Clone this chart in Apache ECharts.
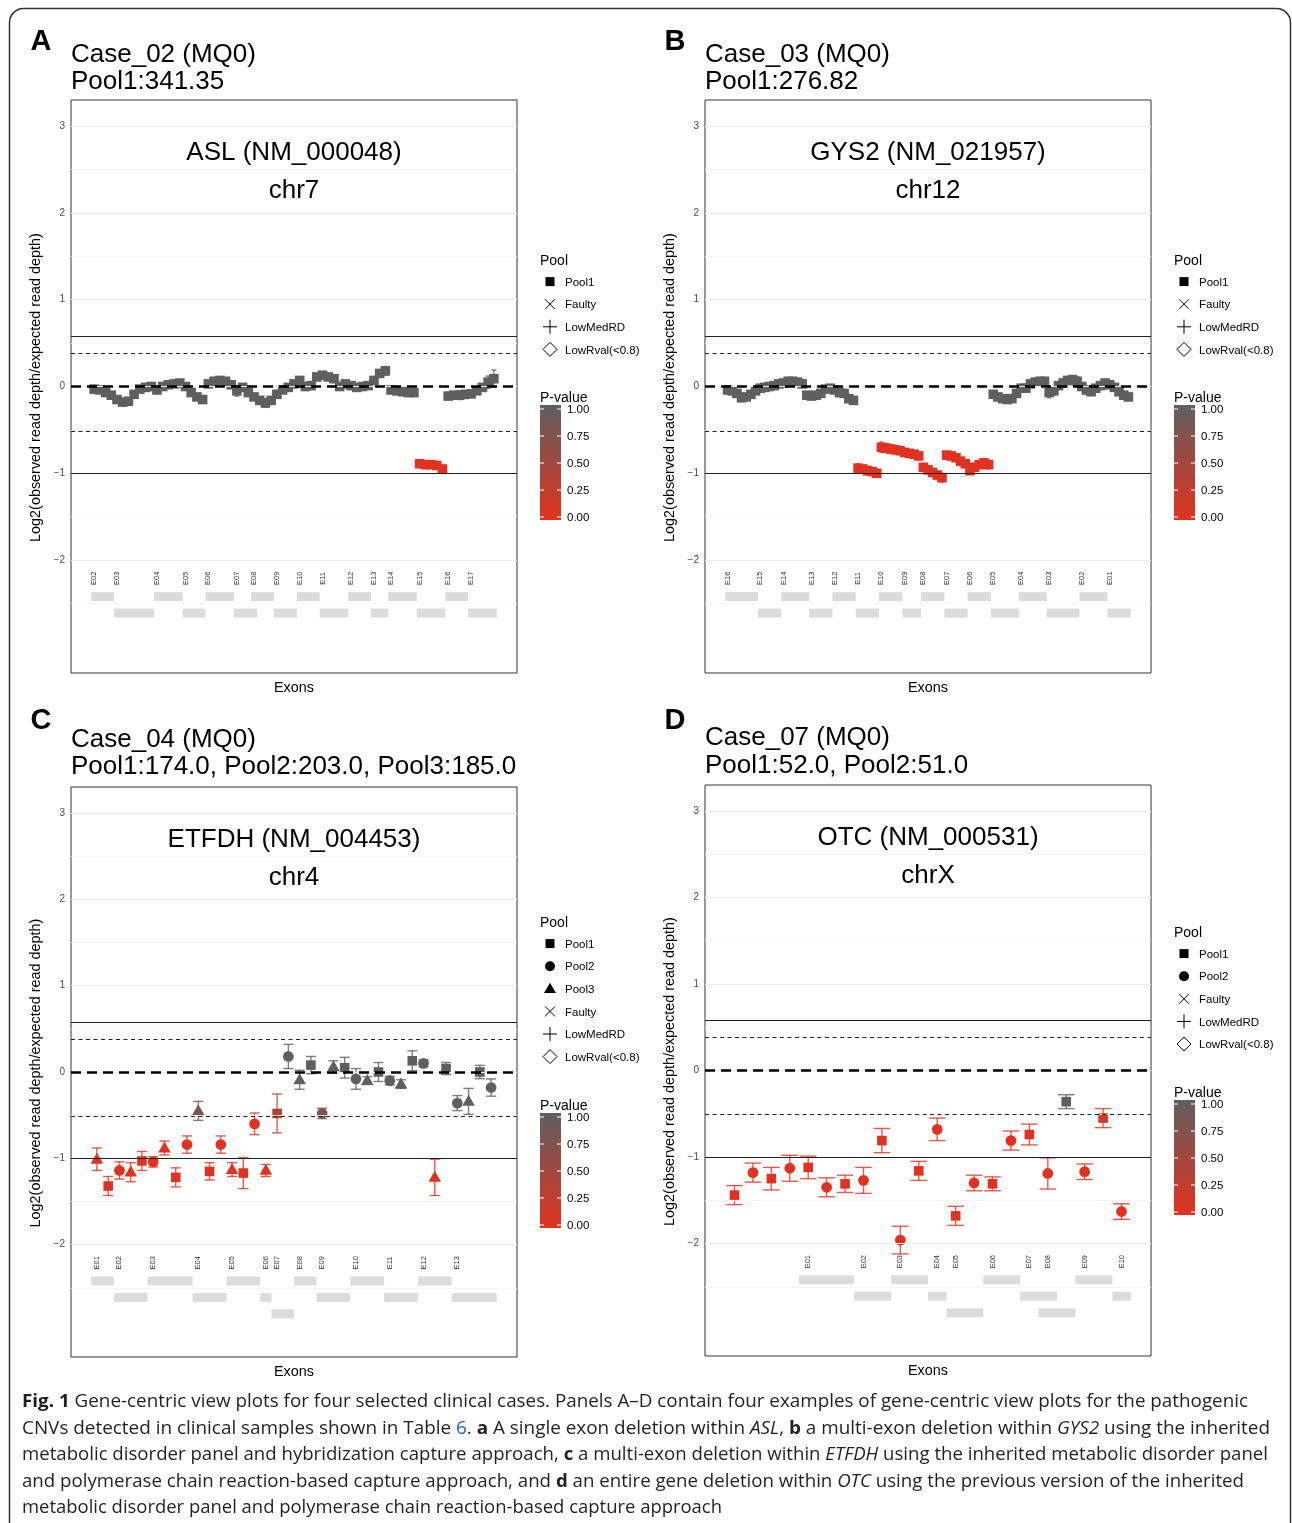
<!DOCTYPE html>
<html><head><meta charset="utf-8">
<script src="https://cdn.jsdelivr.net/npm/echarts@6/dist/echarts.min.js"></script>
<style>html,body{margin:0;padding:0;background:#fff}#c{width:1292px;height:1523px}</style>
</head><body><div id="c"></div>
<script>
// ---------------- DATA ----------------
// Panel A: Case_02, ASL (NM_000048), chr7
const aExonNames=['E02','E03','E04','E05','E06','E07','E08','E09','E10','E11','E12','E13','E14','E15','E16','E17'];
const aExonStart=[0,4,11,16,20,25,28,32,36,40,45,49,52,57,62,66];
const aExonEnd=[3,10,15,19,24,28,31,35,39,44,48,51,56,61,65,70];
const aExonRow=[1,2,1,2,1,2,1,2,1,2,1,2,1,2,1,2];
const aExonP=[1,1,1,1,1,1,1,1,1,1,1,1,1,0,1,1];
const aValues=[-0.03,-0.04,-0.07,-0.10, -0.15,-0.18,-0.17,-0.09,-0.03,-0.01,0.00, -0.04,0.00,0.02,0.03,0.04,
  0.00,-0.07,-0.12,-0.15, 0.03,0.06,0.07,0.06,0.02, -0.05,-0.01,-0.07,-0.12, -0.16,-0.19,-0.16,
  -0.09,-0.04,-0.01,0.03, 0.07,0.00,0.01,0.11, 0.13,0.11,0.09,0.00,0.03, 0.01,-0.01,0.00,0.01,
  0.07,0.15,0.18, -0.04,-0.05,-0.06,-0.07,-0.07, -0.89,-0.90,-0.90,-0.91,-0.95, -0.11,-0.10,-0.10,-0.09,
  -0.085,-0.05,-0.01,0.05,0.09];
const aErr=[0.03,0.03,0.03,0.03, 0.03,0.03,0.03,0.03,0.03,0.03,0.03, 0.03,0.03,0.03,0.03,0.03, 0.03,0.03,0.03,0.03,
  0.03,0.03,0.03,0.03,0.03, 0.06,0.03,0.03,0.03, 0.03,0.05,0.03, 0.03,0.03,0.03,0.03, 0.03,0.03,0.03,0.04,
  0.03,0.03,0.03,0.03,0.03, 0.03,0.03,0.03,0.03, 0.03,0.04,0.05, 0.03,0.03,0.03,0.03,0.03,
  0.02,0.02,0.02,0.02,0.02, 0.03,0.04,0.05,0.04, 0.03,0.03,0.04,0.07,0.10];

// Panel B: Case_03, GYS2 (NM_021957), chr12
const bExonNames=['E16','E15','E14','E13','E12','E11','E10','E09','E08','E07','E06','E05','E04','E03','E02','E01'];
const bExonStart=[0,7,12,18,23,28,33,38,42,47,52,57,63,69,76,82];
const bExonEnd=[6,11,17,22,27,32,37,41,46,51,56,62,68,75,81,86];
const bExonRow=[1,2,1,2,1,2,1,2,1,2,1,2,1,2,1,2];
const bExonP=[1,1,1,1,1,0,0,0,0,0,0,1,1,1,1,1];
const bValues=[-0.04,-0.05,-0.08,-0.13,-0.12,-0.09,-0.05, -0.02,-0.01,0.00,0.01,0.03,
  0.04,0.06,0.06,0.05,0.03,-0.10, -0.11,-0.10,-0.08,-0.03,-0.02, -0.04,-0.07,-0.08,-0.14,-0.16,
  -0.94,-0.95,-0.97,-0.98,-1.00, -0.70,-0.71,-0.72,-0.73,-0.74, -0.76,-0.77,-0.78,-0.80,
  -0.93,-0.96,-0.99,-1.02,-1.05, -0.79,-0.80,-0.82,-0.86,-0.89, -0.97,-0.93,-0.90,-0.88,-0.90,
  -0.09,-0.12,-0.14,-0.15,-0.14,-0.08, -0.02,-0.02,0.03,0.05,0.06,0.06,
  -0.07,-0.05,0.01,0.04,0.07,0.08,0.06, 0.00,-0.04,-0.06,-0.02,0.01,0.04, 0.02,-0.01,-0.06,-0.10,-0.12];
const bErr=[0.03,0.03,0.03,0.03,0.03,0.03,0.03, 0.03,0.03,0.03,0.03,0.03, 0.03,0.03,0.03,0.03,0.03,0.03,
  0.03,0.03,0.03,0.03,0.03, 0.03,0.03,0.03,0.03,0.03, 0.05,0.04,0.05,0.04,0.04, 0.06,0.05,0.05,0.04,0.04,
  0.04,0.04,0.04,0.04, 0.04,0.04,0.04,0.05,0.05, 0.04,0.04,0.04,0.04,0.04, 0.04,0.04,0.04,0.04,0.05,
  0.03,0.03,0.03,0.04,0.03,0.03, 0.03,0.03,0.03,0.03,0.03,0.03, 0.06,0.05,0.03,0.05,0.04,0.03,0.05,
  0.03,0.04,0.03,0.03,0.03,0.03, 0.03,0.03,0.03,0.03,0.03];

// Panel C: Case_04, ETFDH (NM_004453), chr4
const cExonNames=['E01','E02','E03','E04','E05','E06','E07','E08','E09','E10','E11','E12','E13'];
const cExonStart=[0,2,5,9,12,15,16,18,20,23,26,29,32];
const cExonEnd=[1,4,8,11,14,15,17,19,22,25,28,31,35];
const cExonRow=[1,2,1,2,1,2,3,1,2,1,2,1,2];
const cPool=['Pool3','Pool1','Pool2','Pool3','Pool1','Pool2','Pool3','Pool1','Pool2','Pool3','Pool1','Pool2',
  'Pool3','Pool1','Pool2','Pool3','Pool1','Pool2','Pool3','Pool1','Pool2','Pool3','Pool1','Pool2',
  'Pool3','Pool1','Pool2','Pool3','Pool1','Pool2','Pool3','Pool1','Pool2','Pool3','Pool1','Pool2'];
const cValues=[-1.01,-1.32,-1.14,-1.16,-1.03,-1.04,-0.88,-1.22,-0.84,-0.45,-1.15,-0.84,
  -1.13,-1.17,-0.60,-1.14,-0.48,0.18,-0.09,0.08,-0.48,0.06,0.05,-0.08,
  -0.10,0.00,-0.10,-0.14,0.13,0.10,-1.22,0.04,-0.36,-0.34,0.00,-0.18];
const cErr=[0.13,0.11,0.10,0.11,0.11,0.06,0.08,0.11,0.10,0.11,0.10,0.10,
  0.08,0.18,0.125,0.07,0.225,0.14,0.11,0.10,0.06,0.07,0.12,0.12,
  0.045,0.11,0.05,0.05,0.115,0.04,0.21,0.07,0.087,0.15,0.077,0.10];
const cPval=[0,0,0,0,0,0,0,0,0,0.85,0,0, 0,0,0,0,0.35,1,1,1,0.8,1,1,1, 1,1,1,1,1,1,0,1,1,1,1,1];

// Panel D: Case_07, OTC (NM_000531), chrX
const dExonNames=['E01','E02','E03','E04','E05','E06','E07','E08','E09','E10'];
const dExonStart=[4,7,9,11,12,14,16,17,19,21];
const dExonEnd=[6,8,10,11,13,15,17,18,20,21];
const dExonRow=[1,2,1,2,3,1,2,3,1,2];
const dPool=['Pool1','Pool2','Pool1','Pool2','Pool1','Pool2','Pool1','Pool2','Pool1','Pool2','Pool1',
  'Pool2','Pool1','Pool2','Pool1','Pool2','Pool1','Pool2','Pool1','Pool2','Pool1','Pool2'];
const dValues=[-1.44,-1.18,-1.25,-1.13,-1.12,-1.35,-1.31,-1.27,-0.81,-1.96,-1.16,
  -0.68,-1.68,-1.30,-1.31,-0.81,-0.74,-1.19,-0.36,-1.17,-0.55,-1.63];
const dErr=[0.11,0.11,0.13,0.15,0.13,0.11,0.10,0.15,0.14,0.16,0.11,
  0.13,0.11,0.09,0.08,0.11,0.12,0.18,0.08,0.09,0.11,0.09];
const dPval=[0,0,0,0,0,0,0,0,0,0,0, 0,0,0,0,0,0,0,1,0,0.1,0];

// reference ratio lines and y breaks
const thresholdRatios=[1.5,1.3,1,0.7,0.5];
const yBreaks=[-2,-1,0,1,2,3];
const yMinorBreaks=[-2.5,-1.5,-0.5,0.5,1.5,2.5];
const pTicks=[1.00,0.75,0.50,0.25,0.00];

const titlesMain=['Case_02 (MQ0)','Case_03 (MQ0)','Case_04 (MQ0)','Case_07 (MQ0)'];
const titlesPool=['Pool1:341.35','Pool1:276.82','Pool1:174.0, Pool2:203.0, Pool3:185.0','Pool1:52.0, Pool2:51.0'];
const geneTitles=['ASL (NM_000048)','GYS2 (NM_021957)','ETFDH (NM_004453)','OTC (NM_000531)'];
const chromTitles=['chr7','chr12','chr4','chrX'];
const panelLetters=['A','B','C','D'];
const legendItemsAB=['Pool1','Faulty','LowMedRD','LowRval(<0.8)'];
const legendItemsC=['Pool1','Pool2','Pool3','Faulty','LowMedRD','LowRval(<0.8)'];
const legendItemsD=['Pool1','Pool2','Faulty','LowMedRD','LowRval(<0.8)'];

// ---------------- RENDER ----------------
const FONT="'Liberation Sans', Arial, Helvetica, sans-serif";
const LOWC=[226,50,31], HIGHC=[95,95,95];
function pColor(p,a){const c=LOWC.map((l,k)=>Math.round(l+(HIGHC[k]-l)*p));return a==null?'rgb('+c.join(',')+')':'rgba('+c.join(',')+','+a+')';}
const SHAPE={Pool1:0,Pool2:1,Pool3:2};
function probeP(n,starts,ends,exP){const p=new Array(n).fill(1);starts.forEach((s,k)=>{if(exP[k]!==1)for(let i=s;i<=ends[k];i++)p[i]=exP[k];});return p;}

const LABEL_Y=-2.21, ROW_Y=[-2.42,-2.61,-2.80], BAR_H=0.104;

const panels=[
 {grid:{left:71,top:100,width:446,height:573},names:aExonNames,st:aExonStart,en:aExonEnd,row:aExonRow,
  values:aValues,err:aErr,pool:aValues.map(()=> 'Pool1'),p:probeP(aValues.length,aExonStart,aExonEnd,aExonP)},
 {grid:{left:705,top:100,width:446,height:573},names:bExonNames,st:bExonStart,en:bExonEnd,row:bExonRow,
  values:bValues,err:bErr,pool:bValues.map(()=> 'Pool1'),p:probeP(bValues.length,bExonStart,bExonEnd,bExonP)},
 {grid:{left:71,top:787,width:446,height:570},names:cExonNames,st:cExonStart,en:cExonEnd,row:cExonRow,
  values:cValues,err:cErr,pool:cPool,p:cPval},
 {grid:{left:705,top:785,width:446,height:571},names:dExonNames,st:dExonStart,en:dExonEnd,row:dExonRow,
  values:dValues,err:dErr,pool:dPool,p:dPval}
];

function exonRender(names){
  return function(params,api){
    const s=api.value(0),e=api.value(1),r=api.value(2);
    const yc=ROW_Y[r-1];
    const p1=api.coord([s-0.5,yc+BAR_H/2]),p2=api.coord([e+0.5,yc-BAR_H/2]);
    const lp=api.coord([s,LABEL_Y]);
    return {type:'group',children:[
      {type:'rect',shape:{x:p1[0],y:p1[1],width:p2[0]-p1[0],height:p2[1]-p1[1]},style:{fill:'#dcdcdc'}},
      {type:'text',x:lp[0],y:lp[1],rotation:Math.PI/2,style:{text:names[params.dataIndex],fontSize:7.5,fontFamily:FONT,fill:'#333',
        align:'center',verticalAlign:'middle',textAlign:'center',textVerticalAlign:'middle'}}
    ]};
  };
}
function pointRender(params,api){
  const x=api.value(0),y=api.value(1),e=api.value(2),s=api.value(3),p=api.value(4);
  const c=api.coord([x,y]),t=api.coord([x,y+e]),b=api.coord([x,y-e]);
  const hw=api.size([0.45,0])[0];
  const col=pColor(p),ecol=pColor(p,0.8);
  const ls={stroke:ecol,lineWidth:1.4};
  const ch=[
    {type:'line',shape:{x1:c[0],y1:t[1],x2:c[0],y2:b[1]},style:ls},
    {type:'line',shape:{x1:c[0]-hw,y1:t[1],x2:c[0]+hw,y2:t[1]},style:ls},
    {type:'line',shape:{x1:c[0]-hw,y1:b[1],x2:c[0]+hw,y2:b[1]},style:ls}];
  if(s===0) ch.push({type:'rect',shape:{x:c[0]-4.8,y:c[1]-4.8,width:9.6,height:9.6},style:{fill:col}});
  else if(s===1) ch.push({type:'circle',shape:{cx:c[0],cy:c[1],r:5.4},style:{fill:col}});
  else ch.push({type:'polygon',shape:{points:[[c[0],c[1]-6.6],[c[0]-6.3,c[1]+4.4],[c[0]+6.3,c[1]+4.4]]},style:{fill:col}});
  return {type:'group',children:ch};
}
function refLineData(){
  const d=[];
  yBreaks.forEach(v=>d.push({yAxis:v,lineStyle:{color:'#ebebeb',width:1,type:'solid'}}));
  yMinorBreaks.forEach(v=>d.push({yAxis:v,lineStyle:{color:'#f3f3f3',width:0.8,type:'solid'}}));
  thresholdRatios.forEach(r=>{
    const v=Math.log2(r);
    let ls;
    if(r===1) ls={color:'#000',width:2.6,type:[10,6]};
    else if(r===1.5||r===0.5) ls={color:'#222',width:1,type:'solid'};
    else ls={color:'#222',width:1.2,type:[4,3.5]};
    d.push({yAxis:v,lineStyle:ls});
  });
  return d;
}

const grids=[],xAxes=[],yAxes=[],series=[];
panels.forEach((P,k)=>{
  grids.push(Object.assign({show:true,borderColor:'#333',borderWidth:1,backgroundColor:'transparent'},P.grid));
  const n=P.values.length;
  const lo=Math.min(0,...P.st)-0.5,hi=Math.max(n-1,...P.en)+0.5,pad=(hi-lo)*0.05;
  xAxes.push({gridIndex:k,type:'value',min:lo-pad,max:hi+pad,show:false});
  yAxes.push({gridIndex:k,type:'value',min:-3.3,max:3.3,axisLine:{show:false},splitLine:{show:false},
    axisTick:{show:true,length:3,lineStyle:{color:'#333'},customValues:yBreaks},
    axisLabel:{customValues:yBreaks,color:'#4d4d4d',fontSize:10,margin:6,fontFamily:FONT,
      formatter:v=>String(v).replace('-','\u2212')}});
  series.push({type:'custom',xAxisIndex:k,yAxisIndex:k,z:1,silent:true,encode:{x:[0,1],y:2},
    renderItem:exonRender(P.names),data:P.st.map((s,j)=>[s,P.en[j],P.row[j]]),
    markLine:{silent:true,symbol:['none','none'],label:{show:false},animation:false,data:refLineData()}});
  series.push({type:'custom',xAxisIndex:k,yAxisIndex:k,z:3,silent:true,encode:{x:0,y:1},renderItem:pointRender,
    data:P.values.map((v,i)=>[i,v,P.err[i],SHAPE[P.pool[i]],P.p[i]])});
});

// ---------------- GRAPHICS (titles, legends, caption) ----------------
const G=[];
const YSHIFT=2;
function T(x,y,text,o){o=o||{};G.push({type:'text',x:x,y:o.rot?y:y+YSHIFT,rotation:o.rot||0,silent:true,z:10,
  style:{text:text,fontSize:o.size||12,fontFamily:o.family||FONT,fontWeight:o.weight||'normal',fill:o.fill||'#000',
  align:o.align||'left',verticalAlign:'middle',textAlign:o.align||'left',textVerticalAlign:'middle'}});}
// frame
G.push({type:'rect',silent:true,z:0,shape:{x:9.5,y:8.5,width:1281,height:1600,r:[14,14,0,0]},style:{fill:'none',stroke:'#333',lineWidth:1.5}});
const titlePos=[[71,40,53,80],[705,40,53,80],[71,719,738,765],[705,719,736,764]];
panels.forEach((P,k)=>{
  const g=P.grid,cx=g.left+g.width/2,[tx,ly,t1,t2]=titlePos[k];
  T(tx-30,ly,panelLetters[k],{size:29,weight:'bold',align:'center'});
  T(tx,t1,titlesMain[k],{size:26});
  T(tx,t2,titlesPool[k],{size:26});
  T(cx,g.top+51,geneTitles[k],{size:26,align:'center'});
  T(cx,g.top+89,chromTitles[k],{size:26,align:'center'});
  T(g.left-35,g.top+g.height/2+1,'Log2(observed read depth/expected read depth)',{size:14.4,align:'center',rot:Math.PI/2});
  T(cx,g.top+g.height+13,'Exons',{size:14.4,align:'center'});
});
function legend(x0,yPool,items,yP){
  T(x0,yPool,'Pool',{size:14});
  items.forEach((it,i)=>{
    const y=yPool+22.6*(i+1),sx=x0+10;
    if(it==='Pool1') G.push({type:'rect',silent:true,z:10,shape:{x:sx-4.5,y:y-4.5,width:9,height:9},style:{fill:'#000'}});
    else if(it==='Pool2') G.push({type:'circle',silent:true,z:10,shape:{cx:sx,cy:y,r:5},style:{fill:'#000'}});
    else if(it==='Pool3') G.push({type:'polygon',silent:true,z:10,shape:{points:[[sx,y-6],[sx-6,y+4.2],[sx+6,y+4.2]]},style:{fill:'#000'}});
    else if(it==='Faulty'){G.push({type:'line',silent:true,z:10,shape:{x1:sx-5,y1:y-5,x2:sx+5,y2:y+5},style:{stroke:'#000',lineWidth:1}});
      G.push({type:'line',silent:true,z:10,shape:{x1:sx-5,y1:y+5,x2:sx+5,y2:y-5},style:{stroke:'#000',lineWidth:1}});}
    else if(it==='LowMedRD'){G.push({type:'line',silent:true,z:10,shape:{x1:sx-7,y1:y,x2:sx+7,y2:y},style:{stroke:'#000',lineWidth:1}});
      G.push({type:'line',silent:true,z:10,shape:{x1:sx,y1:y-7,x2:sx,y2:y+7},style:{stroke:'#000',lineWidth:1}});}
    else G.push({type:'polygon',silent:true,z:10,shape:{points:[[sx,y-7],[sx+7,y],[sx,y+7],[sx-7,y]]},style:{fill:'none',stroke:'#000',lineWidth:1}});
    T(x0+25,y-1,it,{size:11.5});
  });
  T(x0,yP,'P-value',{size:14});
  const bt=yP+9,bh=115;
  G.push({type:'rect',silent:true,z:10,shape:{x:x0,y:bt,width:21,height:bh},
    style:{fill:{type:'linear',x:0,y:0,x2:0,y2:1,colorStops:[{offset:0,color:pColor(1)},{offset:1,color:pColor(0)}]}}});
  pTicks.forEach((v,i)=>{
    const y=bt+4+(1-v)*(bh-7);
    G.push({type:'line',silent:true,z:11,shape:{x1:x0,y1:y,x2:x0+4,y2:y},style:{stroke:'#fff',lineWidth:1}});
    G.push({type:'line',silent:true,z:11,shape:{x1:x0+17,y1:y,x2:x0+21,y2:y},style:{stroke:'#fff',lineWidth:1}});
    T(x0+27,y-1,v.toFixed(2),{size:11.5});
  });
}
legend(540,259,legendItemsAB,396);
legend(1174,259,legendItemsAB,396);
legend(540,921,legendItemsC,1104);
legend(1174,931,legendItemsD,1091);

// caption
const CAP_FONT="'Open Sans', 'Noto Sans', sans-serif", CAP_SIZE=18.5;
const captionLines=[
 [['b','Fig. 1'],['n',' Gene-centric view plots for four selected clinical cases. Panels A–D contain four examples of gene-centric view plots for the pathogenic']],
 [['n','CNVs detected in clinical samples shown in Table '],['l','6'],['n','. '],['b','a'],['n',' A single exon deletion within '],['i','ASL'],['n',', '],['b','b'],['n',' a multi-exon deletion within '],['i','GYS2'],['n',' using the inherited']],
 [['n','metabolic disorder panel and hybridization capture approach, '],['b','c'],['n',' a multi-exon deletion within '],['i','ETFDH'],['n',' using the inherited metabolic disorder panel']],
 [['n','and polymerase chain reaction-based capture approach, and '],['b','d'],['n',' an entire gene deletion within '],['i','OTC'],['n',' using the previous version of the inherited']],
 [['n','metabolic disorder panel and polymerase chain reaction-based capture approach']]
];
const captionRight=[1248,1270,1268,1244,722];
const captionY=[1400,1427,1453,1480,1506];
const mctx=document.createElement('canvas').getContext('2d');
function segFont(t){return (t==='i'?'italic ':'')+(t==='b'?'bold ':'')+CAP_SIZE+'px '+CAP_FONT;}
const capX=22;
captionLines.forEach((segs,li)=>{
  let w=0,txt='';
  segs.forEach(([t,s])=>{mctx.font=segFont(t);w+=mctx.measureText(s).width;txt+='{'+t+'|'+s+'}';});
  const sc=(captionRight[li]-capX)/w;
  G.push({type:'text',x:capX,y:captionY[li]+YSHIFT,scaleX:sc,scaleY:1,silent:true,z:10,
    style:{text:txt,fontSize:CAP_SIZE,fontFamily:CAP_FONT,fill:'#231f20',align:'left',verticalAlign:'middle',
      textAlign:'left',textVerticalAlign:'middle',
      rich:{n:{fontSize:CAP_SIZE,fontFamily:CAP_FONT,fill:'#231f20'},
            b:{fontSize:CAP_SIZE,fontFamily:CAP_FONT,fontWeight:'bold',fill:'#231f20'},
            i:{fontSize:CAP_SIZE,fontFamily:CAP_FONT,fontStyle:'italic',fill:'#231f20'},
            l:{fontSize:CAP_SIZE,fontFamily:CAP_FONT,fill:'#1f5fd1'}}}});
});

const chart=echarts.init(document.getElementById('c'),null,{renderer:'canvas'});
chart.setOption({animation:false,backgroundColor:'#fff',textStyle:{fontFamily:FONT},
  grid:grids,xAxis:xAxes,yAxis:yAxes,series:series,graphic:{elements:G}});
</script></body></html>
